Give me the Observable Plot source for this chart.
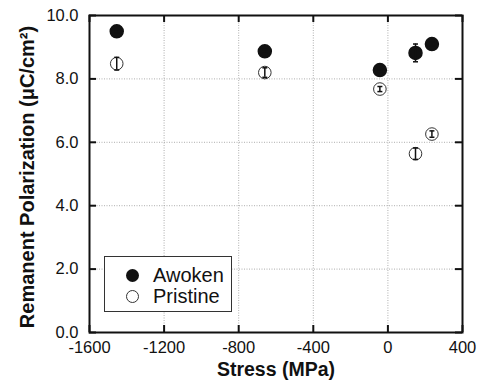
<!DOCTYPE html>
<html>
<head>
<meta charset="utf-8">
<script src="https://cdn.jsdelivr.net/npm/d3@7"></script>
<script src="https://cdn.jsdelivr.net/npm/@observablehq/plot@0.6"></script>
<style>
  body { margin: 0; background: #fff; }
  #wrap { position: relative; width: 482px; height: 383px; font-family: "Liberation Sans", Arial, sans-serif; }
  #legend { position: absolute; left: 104px; top: 256px; width: 126px; height: 54px; border: 1px solid #333; background: #fff; }
  #legend .row { position: absolute; left: 0; height: 22px; display: flex; align-items: center; font-size: 20px; color: #111; }
  #legend .mk { display: inline-block; width: 13px; height: 13px; border-radius: 50%; box-sizing: border-box; margin-left: 21px; margin-right: 14px; }
</style>
</head>
<body>
<div id="wrap"></div>
<script>
const stress = [-1454, -660, -43, 148, 236];
const awoken = [9.50, 8.87, 8.28, 8.82, 9.10];
const awokenErr = [0.05, 0.06, 0.05, 0.28, 0.06];
const pristine = [8.48, 8.20, 7.68, 5.64, 6.26];
const pristineErr = [0.20, 0.15, 0.08, 0.18, 0.10];
const xTicks = [-1600, -1200, -800, -400, 0, 400];
const yTicks = [0, 2, 4, 6, 8, 10];
const seriesNames = ["Awoken", "Pristine"];
const xLabel = "Stress (MPa)";
const yLabel = "Remanent Polarization (μC/cm²)";

const rows = [];
stress.forEach((s, i) => {
  rows.push({x: s, y: awoken[i], e: awokenErr[i], series: seriesNames[0]});
  rows.push({x: s, y: pristine[i], e: pristineErr[i], series: seriesNames[1]});
});
const cap = { draw(ctx, size) { const r = Math.sqrt(size / Math.PI); ctx.moveTo(-r, 0); ctx.lineTo(r, 0); } };
const W = 482, H = 383, mL = 89, mR = 20, mT = 15, mB = 51;
const tickLen = 7;
const frameW = W - mL - mR, frameH = H - mT - mB;
const ink = "#111";
const aw = rows.filter(d => d.series === seriesNames[0]);
const pr = rows.filter(d => d.series === seriesNames[1]);

const plot = Plot.plot({
  width: W,
  height: H,
  marginLeft: mL,
  marginRight: mR,
  marginTop: mT,
  marginBottom: mB,
  style: { fontFamily: "'Liberation Sans', Arial, sans-serif", fontSize: "16.5px", color: ink, background: "#fff" },
  x: { domain: [-1600, 400] },
  y: { domain: [0, 10] },
  marks: [
    Plot.gridX(xTicks, { stroke: "#999", strokeOpacity: 1, strokeDasharray: "1,1.5", strokeWidth: 0.8 }),
    Plot.gridY(yTicks, { stroke: "#999", strokeOpacity: 1, strokeDasharray: "1,1.5", strokeWidth: 0.8 }),
    Plot.axisX(xTicks, { anchor: "bottom", tickSize: 0, tickPadding: 9, tickFormat: d => String(d), label: null, fontSize: 16.5 }),
    Plot.axisY(yTicks, { anchor: "left", tickSize: 0, tickPadding: 11, tickFormat: d => d.toFixed(1), label: null, fontSize: 16.5 }),
    Plot.tickX(xTicks, { x: d => d, insetTop: frameH - tickLen, stroke: ink, strokeWidth: 2 }),
    Plot.tickX(xTicks, { x: d => d, insetBottom: frameH - tickLen, stroke: ink, strokeWidth: 2 }),
    Plot.tickY(yTicks, { y: d => d, insetRight: frameW - tickLen, stroke: ink, strokeWidth: 2 }),
    Plot.tickY(yTicks, { y: d => d, insetLeft: frameW - tickLen, stroke: ink, strokeWidth: 2 }),
    Plot.frame({ stroke: ink, strokeWidth: 2 }),
    // Awoken
    Plot.dot(aw, { x: "x", y: "y", r: 6.5, fill: ink, stroke: ink }),
    Plot.ruleX(aw, { x: "x", y1: d => d.y - d.e, y2: d => d.y + d.e, stroke: ink, strokeWidth: 1.5 }),
    Plot.dot(aw, { x: "x", y: d => d.y - d.e, symbol: cap, r: 2.5, stroke: ink, strokeWidth: 1.5 }),
    Plot.dot(aw, { x: "x", y: d => d.y + d.e, symbol: cap, r: 2.5, stroke: ink, strokeWidth: 1.5 }),
    // Pristine
    Plot.dot(pr, { x: "x", y: "y", r: 6.3, fill: "#fff", stroke: "#333", strokeWidth: 1 }),
    Plot.ruleX(pr, { x: "x", y1: d => d.y - d.e, y2: d => d.y + d.e, stroke: ink, strokeWidth: 1.5 }),
    Plot.dot(pr, { x: "x", y: d => d.y - d.e, symbol: cap, r: 2.5, stroke: ink, strokeWidth: 1.5 }),
    Plot.dot(pr, { x: "x", y: d => d.y + d.e, symbol: cap, r: 2.5, stroke: ink, strokeWidth: 1.5 }),
    // Axis titles
    Plot.text([xLabel], { frameAnchor: "bottom", dy: 43, fontSize: 19.5, fontWeight: "bold", fill: ink }),
    Plot.text([yLabel], { frameAnchor: "left", textAnchor: "middle", rotate: -90, dx: -62, dy: 3, fontSize: 20, fontWeight: "bold", fill: ink })
  ]
});

const wrap = document.getElementById("wrap");
wrap.appendChild(plot);

const legend = document.createElement("div");
legend.id = "legend";
seriesNames.forEach((name, i) => {
  const row = document.createElement("div");
  row.className = "row";
  row.style.top = (7 + i * 21) + "px";
  const mk = document.createElement("span");
  mk.className = "mk";
  if (i === 0) { mk.style.background = ink; }
  else { mk.style.background = "#fff"; mk.style.border = "1px solid #333"; }
  const t = document.createElement("span");
  t.textContent = name;
  row.appendChild(mk);
  row.appendChild(t);
  legend.appendChild(row);
});
wrap.appendChild(legend);
</script>
</body>
</html>
